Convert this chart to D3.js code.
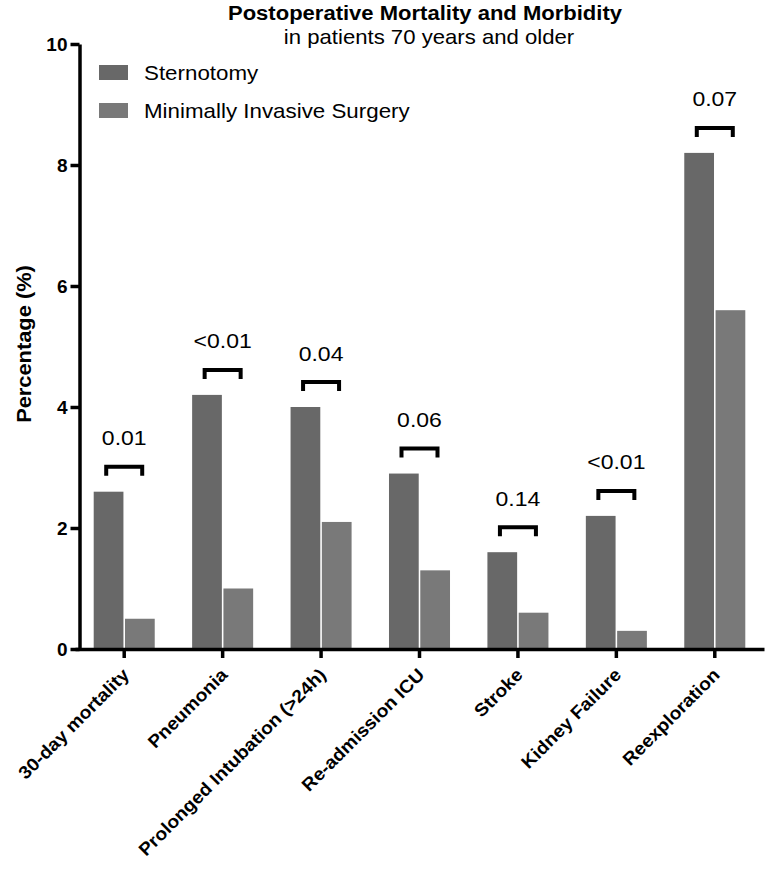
<!DOCTYPE html>
<html>
<head>
<meta charset="utf-8">
<script src="https://d3js.org/d3.v7.min.js"></script>
<style>
  body { margin: 0; background: #fff; }
  .chart text { font-family: "Liberation Sans", Arial, sans-serif; fill: #000; }
  .axis path, .axis line { stroke: #000; stroke-width: 3.5; }
  .axis text { font-size: 19px; font-weight: bold; }
</style>
</head>
<body>
<div class="chart"></div>
<script>
/* Global Constants
============================================= */
const SVG_WIDTH = 768;
const SVG_HEIGHT = 871;

const COLOR_STERNO = "#686868";
const COLOR_MIS = "#797979";

// data
const categories = ["30-day mortality", "Pneumonia", "Prolonged Intubation (>24h)",
                    "Re-admission ICU", "Stroke", "Kidney Failure", "Reexploration"];
const seriesNames = ["Sternotomy", "Minimally Invasive Surgery"];
const sternotomy = [2.6, 4.2, 4.0, 2.9, 1.6, 2.2, 8.2];
const minimallyInvasive = [0.5, 1.0, 2.1, 1.3, 0.6, 0.3, 5.6];
const pValues = ["0.01", "<0.01", "0.04", "0.06", "0.14", "<0.01", "0.07"];
const yTicks = [0, 2, 4, 6, 8, 10];

const titleText = "Postoperative Mortality and Morbidity";
const subtitleText = "in patients 70 years and older";
const textYaxis = "Percentage (%)";

/* Layout
============================================= */
var plotTop = 44,
    plotBottom = 649,
    axisX = 79.5;

var svg = d3.select(".chart")
    .append("svg")
    .attr("width", SVG_WIDTH)
    .attr("height", SVG_HEIGHT);

var rows = categories.map(function(c, i) {
    return { cat: c, vals: [sternotomy[i], minimallyInvasive[i]], p: pValues[i] };
});

// scales
var x0 = d3.scaleBand()
    .domain(categories)
    .range([75, 764])
    .paddingInner(0.38)
    .paddingOuter(0.19);

var x1 = d3.scaleBand()
    .domain([0, 1])
    .range([0, x0.bandwidth()])
    .paddingInner(0.05);

var yLinearScale = d3.scaleLinear()
    .domain([0, 10])
    .range([plotBottom, plotTop]);

var color = d3.scaleOrdinal().domain([0, 1]).range([COLOR_STERNO, COLOR_MIS]);

//****************** bars ******************//
var groups = svg.append("g")
    .selectAll("g")
    .data(rows)
    .enter()
    .append("g")
    .attr("transform", function(d) { return `translate(${x0(d.cat)},0)`; });

groups.selectAll("rect")
    .data(function(d) { return d.vals.map(function(v, i) { return { i: i, v: v }; }); })
    .enter()
    .append("rect")
    .attr("x", function(d) { return x1(d.i); })
    .attr("y", function(d) { return yLinearScale(d.v); })
    .attr("width", x1.bandwidth())
    .attr("height", function(d) { return plotBottom - yLinearScale(d.v); })
    .attr("fill", function(d) { return color(d.i); });

//****************** significance brackets ******************//
var brackets = svg.append("g")
    .selectAll("g")
    .data(rows)
    .enter()
    .append("g")
    .attr("transform", function(d) {
        var cx = x0(d.cat) + x0.bandwidth() / 2;
        var top = yLinearScale(d3.max(d.vals)) - 27;
        return `translate(${cx},${top})`;
    });

brackets.append("path")
    .attr("d", "M-18,11V2H18V11")
    .attr("fill", "none")
    .attr("stroke", "#000")
    .attr("stroke-width", 4);

brackets.append("text")
    .attr("transform", "translate(0,-19.5) scale(1.15,1)")
    .attr("text-anchor", "middle")
    .style("font-size", "20px")
    .text(function(d) { return d.p; });

//****************** axes ******************//
var yAxis = svg.append("g")
    .attr("class", "axis")
    .attr("transform", `translate(${axisX},0)`)
    .call(d3.axisLeft(yLinearScale).tickValues(yTicks).tickSize(9).tickSizeOuter(0).tickPadding(3));

var xAxis = svg.append("g")
    .attr("class", "axis")
    .attr("transform", `translate(0,${plotBottom})`)
    .call(d3.axisBottom(x0).tickSize(9).tickSizeOuter(0));

xAxis.selectAll("text")
    .attr("text-anchor", "end")
    .attr("x", 0)
    .attr("y", 0)
    .attr("dx", 0)
    .attr("dy", 0)
    .attr("transform", "translate(6,27) rotate(-45) scale(1.07,1)")
    .style("font-size", "18px");

// y label
svg.append("text")
    .attr("transform", `translate(31,344) rotate(-90) scale(1.12,1)`)
    .attr("text-anchor", "middle")
    .style("font-size", "19.5px")
    .style("font-weight", "bold")
    .text(textYaxis);

//****************** title ******************//
svg.append("text")
    .attr("transform", "translate(425,20) scale(1.13,1)")
    .attr("text-anchor", "middle")
    .style("font-size", "19.5px")
    .style("font-weight", "bold")
    .text(titleText);

svg.append("text")
    .attr("transform", "translate(429,44) scale(1.08,1)")
    .attr("text-anchor", "middle")
    .style("font-size", "20.5px")
    .text(subtitleText);

//****************** legend ******************//
var legend = svg.append("g")
    .selectAll("g")
    .data(seriesNames)
    .enter()
    .append("g")
    .attr("transform", function(d, i) { return `translate(99,${65 + i * 38})`; });

legend.append("rect")
    .attr("width", 29)
    .attr("height", 15)
    .attr("fill", function(d, i) { return color(i); });

legend.append("text")
    .attr("transform", "translate(45,15) scale(1.09,1)")
    .style("font-size", "20.5px")
    .text(function(d) { return d; });
</script>
</body>
</html>
